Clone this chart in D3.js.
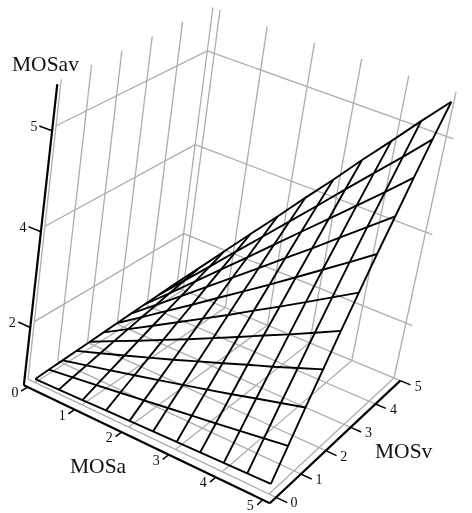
<!DOCTYPE html>
<html>
<head>
<meta charset="utf-8">
<script src="https://cdnjs.cloudflare.com/ajax/libs/d3/7.8.5/d3.min.js"></script>
<style>
  html, body { margin: 0; padding: 0; background: #fff; }
  svg { display: block; filter: blur(0.3px); }
  text { font-family: "Liberation Serif", serif; fill: #111; }
</style>
</head>
<body>
<svg id="chart" width="472" height="513"></svg>
<script>
// surface grid positions
var mosA = [0, 0.5, 1, 1.5, 2, 2.5, 3, 3.5, 4, 4.5, 5];
var mosV = [0, 0.5, 1, 1.5, 2, 2.5, 3, 3.5, 4, 4.5, 5];
// where each MOSa line meets the MOSv=5 edge, the surface does not sit square on the floor grid
var mosAEnd = [-0.25, 0.27, 0.79, 1.31, 1.83, 2.35, 2.87, 3.39, 3.91, 4.43, 4.95];

// MOSav, one row per MOSv, one column per MOSa
var mosAv = [
  [0.12, 0.14, 0.16, 0.19, 0.21, 0.23, 0.25, 0.27, 0.29, 0.31, 0.33],
  [0.11, 0.22, 0.33, 0.44, 0.55, 0.66, 0.77, 0.87, 0.98, 1.09, 1.20],
  [0.09, 0.29, 0.49, 0.69, 0.89, 1.09, 1.29, 1.49, 1.70, 1.90, 2.06],
  [0.08, 0.37, 0.66, 0.95, 1.24, 1.54, 1.83, 2.08, 2.25, 2.43, 2.61],
  [0.06, 0.45, 0.83, 1.22, 1.60, 1.99, 2.23, 2.47, 2.70, 2.94, 3.18],
  [0.05, 0.53, 1.01, 1.49, 1.97, 2.27, 2.57, 2.86, 3.16, 3.46, 3.76],
  [0.04, 0.61, 1.19, 1.76, 2.21, 2.56, 2.91, 3.27, 3.63, 3.99, 4.17],
  [0.03, 0.70, 1.37, 2.03, 2.44, 2.85, 3.27, 3.68, 4.05, 4.25, 4.45],
  [0.02, 0.78, 1.55, 2.20, 2.67, 3.15, 3.63, 4.05, 4.28, 4.51, 4.75],
  [0.01, 0.87, 1.74, 2.38, 2.91, 3.45, 3.99, 4.26, 4.52, 4.78, 5.05],
  [0.00, 0.96, 1.94, 2.56, 3.15, 3.76, 4.17, 4.47, 4.76, 5.06, 5.35]
];

// tick labels on the three axes
var aTicks = [0, 1, 2, 3, 4, 5];
var vTicks = [0, 1, 2, 3, 4, 5];
var zTicks = [2, 4, 5];
var zDomain = [0, 2, 4, 5, 5.46];
var zTop = 5.46;

// where the box corners land on the page
var floorCorners = { o: [35, 382.5], a: [269, 494], v: [183, 290], av: [394, 378] };
var topCorners = { o: [69, 82], a: [328, 174], v: [220, 10], av: [456, 92] };

var aScale = d3.scaleLinear().domain([0, 5]).range([0, 1]);
var vScale = d3.scaleLinear().domain([0, 5]).range([0, 1]);
// the printed z ticks are not evenly spaced
var zScale = d3.scaleLinear().domain(zDomain).range([0, 0.192, 0.51, 0.845, 1]);

function bilinear(c, s, t, k) {
  return c.o[k] * (1 - s) * (1 - t) + c.a[k] * s * (1 - t) + c.v[k] * (1 - s) * t + c.av[k] * s * t;
}

function project(a, v, z) {
  var s = aScale(a), t = vScale(v), h = zScale(z);
  return [0, 1].map(function(k) {
    return bilinear(floorCorners, s, t, k) * (1 - h) + bilinear(topCorners, s, t, k) * h;
  });
}

var svg = d3.select("#chart");
var lineGen = d3.line();

var wallA = -0.15, wallEnd = 5.15;   // walls stick out past the 0..5 range
var axisV = -0.25, axisA = 5.15, axisZ = -0.08;

//Build the gray back planes
var gridLines = [];
vTicks.forEach(function(v) {
  gridLines.push([[wallA, v, 0], [wallA, v, zTop]]);
  gridLines.push([[wallA, v, 0], [wallEnd, v, 0]]);
});
aTicks.forEach(function(a) {
  gridLines.push([[a, 5, 0], [a, 5, zTop]]);
  gridLines.push([[a, 0, 0], [a, 5, 0]]);
});
zTicks.forEach(function(z) {
  gridLines.push([[wallA, 0, z], [wallA, 5, z]]);
  gridLines.push([[wallA, 5, z], [wallEnd, 5, z]]);
});

svg.append("g")
  .selectAll("path")
  .data(gridLines)
  .enter()
  .append("path")
  .attr("d", function(d) {
    return lineGen(d.map(function(p) { return project(p[0], p[1], p[2]); }));
  })
  .style("fill", "none")
  .style("stroke", "#adadad")
  .style("stroke-width", 1.3);

function surfacePoint(i, j) {
  var a = d3.scaleLinear().domain([0, 5]).range([mosA[i], mosAEnd[i]])(mosV[j]);
  return project(a, mosV[j], mosAv[j][i]);
}

// the surface: one line per MOSv row, one per MOSa column
var surfaceLines = [];
mosV.forEach(function(v, j) {
  surfaceLines.push(mosA.map(function(a, i) { return surfacePoint(i, j); }));
});
mosA.forEach(function(a, i) {
  surfaceLines.push(mosV.map(function(v, j) { return surfacePoint(i, j); }));
});

svg.append("g")
  .selectAll("path")
  .data(surfaceLines)
  .enter()
  .append("path")
  .attr("d", lineGen)
  .style("fill", "none")
  .style("stroke", "#000")
  .style("stroke-width", 1.9);

// axes
var axisLines = [
  [[axisZ, axisV, 0], [axisA, axisV, 0]],
  [[axisA, axisV, 0], [axisA, 5, 0]],
  [[axisZ, axisV, 0], [axisZ, axisV, zTop]]
];
aTicks.forEach(function(a) { axisLines.push([[a, axisV, 0], [a, axisV - 0.22, 0]]); });
vTicks.forEach(function(v) { axisLines.push([[axisA, v, 0], [axisA + 0.24, v, 0]]); });
zTicks.forEach(function(z) { axisLines.push([[axisZ, axisV, z], [axisZ - 0.25, axisV, z]]); });

svg.append("g")
  .selectAll("path")
  .data(axisLines)
  .enter()
  .append("path")
  .attr("d", function(d) {
    return lineGen(d.map(function(p) { return project(p[0], p[1], p[2]); }));
  })
  .style("fill", "none")
  .style("stroke", "#000")
  .style("stroke-width", function(d, i) { return i < 3 ? 2.2 : 1.5; });

function tickLabels(values, pos, dx, dy) {
  svg.append("g")
    .selectAll("text")
    .data(values)
    .enter()
    .append("text")
    .attr("x", function(d) { return pos(d)[0] + dx; })
    .attr("y", function(d) { return pos(d)[1] + dy; })
    .attr("dy", "0.35em")
    .attr("text-anchor", "middle")
    .style("font-size", "14px")
    .text(function(d) { return d; });
}

tickLabels(aTicks, function(a) { return project(a, axisV, 0); }, -12.5, 5);
tickLabels(vTicks, function(v) { return project(axisA, v, 0); }, 18, 5);
tickLabels(zTicks, function(z) { return project(axisZ, axisV, z); }, -18, -5);

// axis titles
var titles = [["MOSav", 12, 71], ["MOSa", 70, 473], ["MOSv", 375, 458]];
svg.append("g")
  .selectAll("text")
  .data(titles)
  .enter()
  .append("text")
  .attr("x", function(d) { return d[1]; })
  .attr("y", function(d) { return d[2]; })
  .style("font-size", "21.5px")
  .text(function(d) { return d[0]; });
</script>
</body>
</html>
